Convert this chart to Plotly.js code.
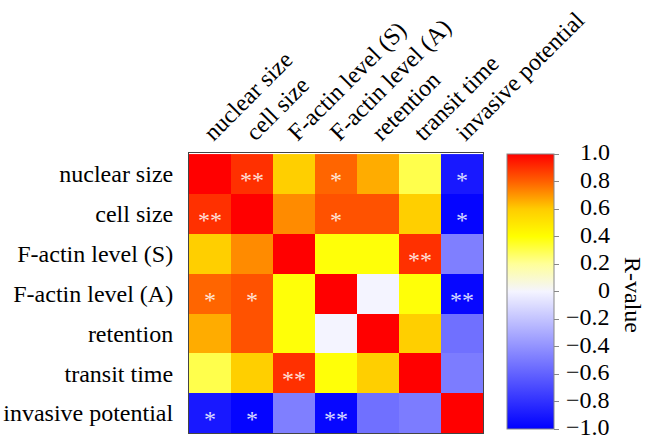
<!DOCTYPE html>
<html>
<head>
<meta charset="utf-8">
<script src="https://cdn.plot.ly/plotly-3.0.1.min.js"></script>
<style>html,body{margin:0;padding:0;background:#fff;}#chart{width:649px;height:440px;}</style>
</head>
<body>
<div id="chart"></div>
<script>
// ---- data ----
const categories = ["nuclear size", "cell size", "F-actin level (S)", "F-actin level (A)", "retention", "transit time", "invasive potential"];
const rNuclear   = [1.0, 0.9, 0.59, 0.79, 0.66, 0.3, -0.9];
const rCell      = [0.9, 1.0, 0.72, 0.83, 0.83, 0.59, -0.98];
const rFactinS   = [0.59, 0.72, 1.0, 0.39, 0.39, 0.9, -0.48];
const rFactinA   = [0.79, 0.83, 0.39, 1.0, 0.0, 0.39, -0.97];
const rRetention = [0.66, 0.83, 0.39, 0.0, 1.0, 0.59, -0.54];
const rTransit   = [0.3, 0.59, 0.9, 0.39, 0.59, 1.0, -0.49];
const rInvasive  = [-0.9, -0.98, -0.48, -0.97, -0.54, -0.49, 1.0];
const sigNuclear   = ["", "**", "", "*", "", "", "*"];
const sigCell      = ["**", "", "", "*", "", "", "*"];
const sigFactinS   = ["", "", "", "", "", "**", ""];
const sigFactinA   = ["*", "*", "", "", "", "", "**"];
const sigRetention = ["", "", "", "", "", "", ""];
const sigTransit   = ["", "", "**", "", "", "", ""];
const sigInvasive  = ["*", "*", "", "**", "", "", ""];
const cbTickVals = [1.0, 0.8, 0.6, 0.4, 0.2, 0, -0.2, -0.4, -0.6, -0.8, -1.0];
const cbTickText = ["1.0", "0.8", "0.6", "0.4", "0.2", "0", "\u22120.2", "\u22120.4", "\u22120.6", "\u22120.8", "\u22121.0"];

const z = [rNuclear, rCell, rFactinS, rFactinA, rRetention, rTransit, rInvasive];
const sig = [sigNuclear, sigCell, sigFactinS, sigFactinA, sigRetention, sigTransit, sigInvasive];

const FONT = "'Liberation Serif', 'Liberation Sans', serif";

// layout geometry (pixels)
const W = 649, H = 440;
const L = 189, R = 166, T = 153, B = 7;
const pw = W - L - R, ph = H - T - B;
const cbLeft = 507, cbTop = 154, cbBottom = 429, cbThick = 47;
const cbLen = cbBottom - cbTop;
const toPX = px => (px - L) / pw;
const toPY = py => (H - B - py) / ph;

const colorscale = [
  [0.0, "#0000ff"],
  [0.5, "#f4f4ff"],
  [0.6, "#ffff99"],
  [0.7, "#ffff00"],
  [0.8, "#ffcc00"],
  [0.9, "#ff6000"],
  [1.0, "#ff0000"]
];

const trace = {
  type: "heatmap",
  x: categories,
  y: categories,
  z: z,
  zmin: -1, zmax: 1,
  colorscale: colorscale,
  hoverinfo: "skip",
  colorbar: {
    thickness: cbThick,
    thicknessmode: "pixels",
    len: cbLen,
    lenmode: "pixels",
    x: toPX(cbLeft),
    xanchor: "left",
    xref: "paper",
    y: toPY((cbTop + cbBottom) / 2),
    yanchor: "middle",
    yref: "paper",
    xpad: 0, ypad: 0,
    outlinewidth: 1,
    outlinecolor: "#888",
    tickmode: "array",
    tickvals: cbTickVals,
    ticks: "outside",
    ticklen: 5,
    tickcolor: "#888",
    showticklabels: false
  }
};

const annotations = [];
for (let i = 0; i < categories.length; i++) {
  for (let j = 0; j < categories.length; j++) {
    if (sig[i][j]) {
      annotations.push({
        x: categories[j], y: categories[i],
        xref: "x", yref: "y",
        text: sig[i][j],
        showarrow: false,
        yshift: -6,
        font: {family: FONT, size: 24, color: "rgba(255,255,255,0.85)"}
      });
    }
  }
}
// colorbar labels, right aligned
for (let k = 0; k < cbTickVals.length; k++) {
  const v = cbTickVals[k];
  const py = cbBottom - (v + 1) / 2 * cbLen;
  annotations.push({
    x: toPX(612), y: toPY(py),
    xref: "paper", yref: "paper",
    xanchor: "right", yanchor: "middle",
    yshift: 2,
    text: cbTickText[k],
    showarrow: false,
    font: {family: FONT, size: 24, color: "#000"}
  });
}
annotations.push({
  x: toPX(633), y: toPY(295),
  xref: "paper", yref: "paper",
  xanchor: "center", yanchor: "middle",
  text: "R-value",
  textangle: 90,
  showarrow: false,
  font: {family: FONT, size: 24, color: "#000"}
});

const layout = {
  width: W, height: H,
  margin: {l: L, r: R, t: T, b: B, pad: 0},
  paper_bgcolor: "#fff",
  plot_bgcolor: "#fff",
  font: {family: FONT, size: 24, color: "#000"},
  showlegend: false,
  xaxis: {
    side: "top",
    tickangle: -45,
    showgrid: false,
    zeroline: false,
    showline: true,
    mirror: true,
    linecolor: "#444",
    linewidth: 1,
    ticks: "",
    ticklabelshift: -5,
    ticklabelstandoff: -3,
    tickfont: {family: FONT, size: 24, color: "#000"},
    automargin: false
  },
  yaxis: {
    autorange: "reversed",
    showgrid: false,
    zeroline: false,
    showline: true,
    mirror: true,
    linecolor: "#444",
    linewidth: 1,
    ticks: "",
    ticklabelstandoff: 10,
    tickfont: {family: FONT, size: 24, color: "#000"},
    automargin: false
  },
  annotations: annotations
};

Plotly.newPlot("chart", [trace], layout, {staticPlot: true, displayModeBar: false});
</script>
</body>
</html>
